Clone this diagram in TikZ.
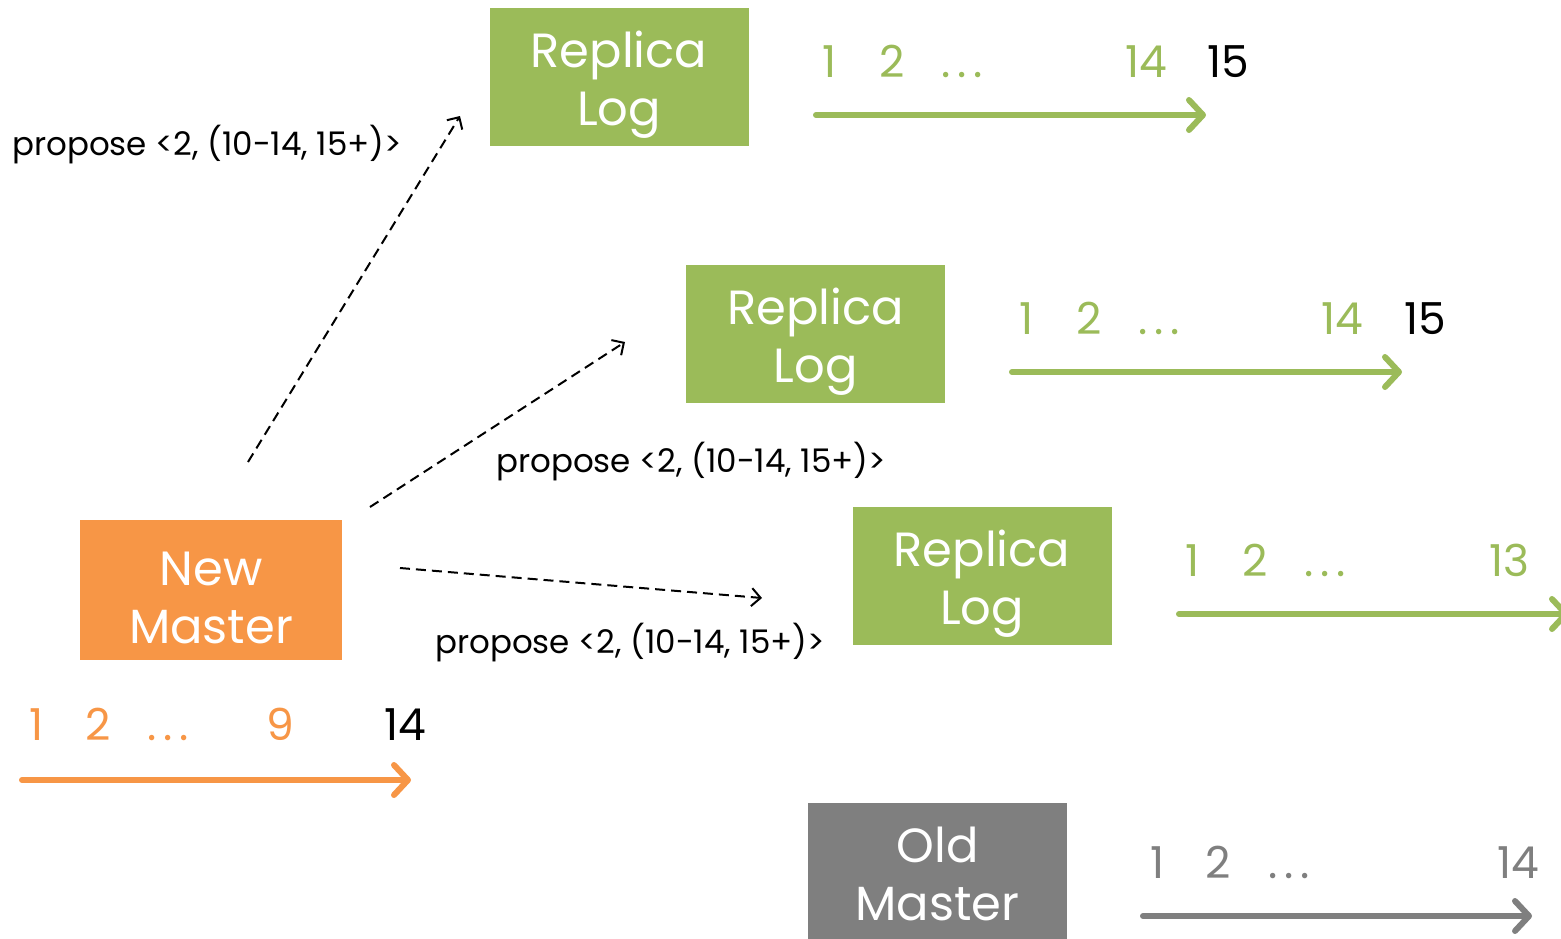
\documentclass[tikz,border=0pt]{standalone}
\usepackage{fontspec}
\setmainfont{Poppins}
\usetikzlibrary{arrows.meta}
\definecolor{rgreen}{HTML}{9BBB59}
\definecolor{morange}{HTML}{F79646}
\definecolor{mgray}{HTML}{7F7F7F}
\newcommand{\mydots}{.\kern7pt.\kern7pt.}
\tikzset{
  box/.style={minimum width=259pt, minimum height=138pt, inner sep=0pt},
  boxtext/.style={inner sep=0pt, text=white, align=center, font=\fontsize{48}{58}\selectfont},
  logline/.style={line width=6pt, line cap=round, -{Straight Barb[length=14pt,width=30pt,line width=6pt,round]}},
  msg/.style={black, line width=2pt, dash pattern=on 10pt off 6pt, -{Straight Barb[length=9pt,width=18pt,line width=2pt]}},
  num/.style={anchor=base, inner sep=0pt, font=\fontsize{44}{50}\selectfont},
  lbl/.style={anchor=base west, inner sep=0pt, font=\fontsize{32.5}{38}\selectfont, black}
}
\begin{document}
\begin{tikzpicture}[x=1pt,y=-1pt]
\useasboundingbox (0,0) rectangle (1561,938);
\clip (0,0) rectangle (1561,938);
% boxes
\node[box, fill=rgreen] (r1) at (619,76.5) {};
\node[box, fill=rgreen] (r2) at (815.5,333.5) {};
\node[box, fill=rgreen] (r3) at (982,575.5) {};
\node[box, fill=morange, minimum width=262pt, minimum height=140pt] (nm) at (211,590) {};
\node[box, fill=mgray] (om) at (937.5,872) {};
\node[boxtext] (r1t) at ([yshift=-8pt]r1.center) {Replica\\Log};
\node[boxtext] (r2t) at ([yshift=-8pt]r2.center) {Replica\\Log};
\node[boxtext] (r3t) at ([yshift=-8pt]r3.center) {Replica\\Log};
\node[boxtext] (nmt) at ([yshift=-8pt]nm.center) {New\\Master};
\node[boxtext] (omt) at ([yshift=-2pt]om.center) {Old\\Master};
% log lines
\coordinate (a1s) at (816,115); \coordinate (a1e) at (1206,115);
\coordinate (a2s) at (1012,372); \coordinate (a2e) at (1402,372);
\coordinate (a3s) at (1179,614); \coordinate (a3e) at (1569,614);
\coordinate (a4s) at (22,780); \coordinate (a4e) at (411,780);
\coordinate (a5s) at (1143,916); \coordinate (a5e) at (1532,916);
\draw[logline, rgreen] (a1s) -- (a1e);
\draw[logline, rgreen] (a2s) -- (a2e);
\draw[logline, rgreen] (a3s) -- (a3e);
\draw[logline, morange] (a4s) -- (a4e);
\draw[logline, mgray] (a5s) -- (a5e);
% numbers
\node[num, rgreen] (n11) at (830,77) {1};
\node[num, rgreen] (n12) at (892,77) {2};
\node[num, rgreen] (n13) at (962,77) {\mydots};
\node[num, rgreen] (n14) at (1146,77) {14};
\node[num, black] (n15) at (1228,77) {15};
\node[num, rgreen] (n21) at (1027,334) {1};
\node[num, rgreen] (n22) at (1089,334) {2};
\node[num, rgreen] (n23) at (1159,334) {\mydots};
\node[num, rgreen] (n24) at (1342,334) {14};
\node[num, black] (n25) at (1425,334) {15};
\node[num, rgreen] (n31) at (1193,576) {1};
\node[num, rgreen] (n32) at (1255,576) {2};
\node[num, rgreen] (n33) at (1325,576) {\mydots};
\node[num, rgreen] (n34) at (1509,576) {13};
\node[num, morange] (n41) at (37,740) {1};
\node[num, morange] (n42) at (98,740) {2};
\node[num, morange] (n43) at (168,740) {\mydots};
\node[num, morange] (n44) at (280,740) {9};
\node[num, black] (n45) at (405,740) {14};
\node[num, mgray] (n51) at (1158,878) {1};
\node[num, mgray] (n52) at (1218,878) {2};
\node[num, mgray] (n53) at (1289,878) {\mydots};
\node[num, mgray] (n54) at (1518,878) {14};
% messages
\coordinate (m1s) at (248,462); \coordinate (m1e) at (460,116);
\coordinate (m2s) at (370,507); \coordinate (m2e) at (625,342);
\coordinate (m3s) at (400,568); \coordinate (m3e) at (762,598);
\draw[msg] (m1s) -- (m1e);
\draw[msg] (m2s) -- (m2e);
\draw[msg] (m3s) -- (m3e);
\node[lbl] (l1) at (12,155) {propose <2, (10-14, 15+)>};
\node[lbl] (l2) at (496,472) {propose <2, (10-14, 15+)>};
\node[lbl] (l3) at (435,653) {propose <2, (10-14, 15+)>};
\end{tikzpicture}
\end{document}
